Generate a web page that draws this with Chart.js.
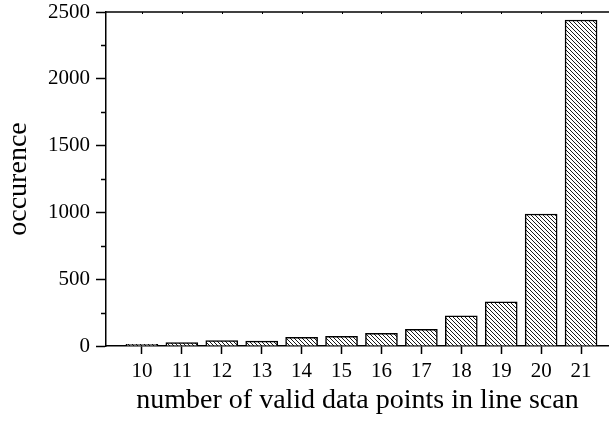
<!DOCTYPE html>
<html>
<head>
<meta charset="utf-8">
<script src="https://cdn.jsdelivr.net/npm/chart.js@4"></script>
<style>
  html, body { margin: 0; padding: 0; background: #fff; }
  canvas { display: block; }
</style>
</head>
<body>
<canvas id="histChart" width="609" height="421"></canvas>
<script>
const points = [10, 11, 12, 13, 14, 15, 16, 17, 18, 19, 20, 21];
const counts = [13, 25, 40, 37, 65, 73, 95, 125, 225, 330, 988, 2440];
const yTicks = [0, 500, 1000, 1500, 2000, 2500];
const yMinor = [250, 750, 1250, 1750, 2250];

const serif = "'Liberation Serif', 'DejaVu Serif', serif";

// diagonal hatch like the "\\\\" fill of the original
function hatch() {
    const s = 4;
    const c = document.createElement('canvas');
    c.width = s; c.height = s;
    const g = c.getContext('2d');
    g.fillStyle = '#fff';
    g.fillRect(0, 0, s, s);
    g.strokeStyle = '#000';
    g.lineWidth = 0.9;
    for (let k = -1; k <= 1; k++) {
        g.beginPath();
        g.moveTo(-1, -1 + k * s);
        g.lineTo(s + 1, s + 1 + k * s);
        g.stroke();
    }
    return g.createPattern(c, 'repeat');
}

const extraTicks = {
    id: 'extraTicks',
    afterDraw(chart) {
        const ctx = chart.ctx;
        const a = chart.chartArea;
        const y = chart.scales.y;
        const x = chart.scales.x;
        ctx.save();
        ctx.strokeStyle = '#000';
        ctx.lineWidth = 1.5;
        // minor ticks on the left axis
        yMinor.forEach(v => {
            const py = Math.round(y.getPixelForValue(v)) + 0.5;
            ctx.beginPath();
            ctx.moveTo(a.left - 5, py);
            ctx.lineTo(a.left, py);
            ctx.stroke();
        });
        // top frame line with small inward ticks
        ctx.beginPath();
        ctx.moveTo(a.left, a.top);
        ctx.lineTo(a.right, a.top);
        ctx.stroke();
        ctx.lineWidth = 1;
        points.forEach(v => {
            const px = Math.round(x.getPixelForValue(v)) + 0.5;
            ctx.beginPath();
            ctx.moveTo(px, a.top);
            ctx.lineTo(px, a.top + 2);
            ctx.stroke();
        });
        ctx.restore();
    }
};

const data = {
    datasets: [{
        data: points.map((p, i) => ({ x: p, y: counts[i] })),
        backgroundColor: hatch(),
        borderColor: '#000',
        borderWidth: 1.5,
        barThickness: 32
    }]
};

const config = {
    type: 'bar',
    data: data,
    plugins: [extraTicks],
    options: {
        responsive: false,
        animation: false,
        layout: { padding: { top: 12, right: 0, left: 0, bottom: 0 } },
        plugins: {
            legend: { display: false },
            tooltip: { enabled: false }
        },
        scales: {
            x: {
                type: 'linear',
                offset: false,
                min: 9.1,
                max: 21.7,
                afterBuildTicks: s => { s.ticks = points.map(v => ({ value: v })); },
                afterFit: s => { s.height = 75; },
                border: { display: true, color: '#000', width: 1.5 },
                grid: { offset: false, drawOnChartArea: false, drawTicks: true, tickLength: 8, color: '#000', tickWidth: 1.5 },
                ticks: {
                    color: '#000',
                    font: { family: serif, size: 21 },
                    padding: 5,
                    maxRotation: 0,
                    autoSkip: false,
                    callback: v => String(v)
                },
                title: {
                    display: true,
                    text: 'number of valid data points in line scan',
                    color: '#000',
                    font: { family: serif, size: 28 },
                    padding: { top: 0, bottom: 4 }
                }
            },
            y: {
                min: 0,
                max: 2500,
                afterBuildTicks: s => { s.ticks = yTicks.map(v => ({ value: v })); },
                afterFit: s => { s.width = 106; s.paddingTop = 0; s.paddingBottom = 0; },
                border: { display: true, color: '#000', width: 1.5 },
                grid: { drawOnChartArea: false, drawTicks: true, tickLength: 10, color: '#000', tickWidth: 1.5 },
                ticks: {
                    color: '#000',
                    font: { family: serif, size: 21 },
                    padding: 6,
                    callback: v => String(v)
                },
                title: {
                    display: true,
                    text: 'occurence',
                    color: '#000',
                    font: { family: serif, size: 28 },
                    padding: { top: 2, bottom: 0 }
                }
            }
        }
    }
};

new Chart(document.getElementById('histChart').getContext('2d'), config);
</script>
</body>
</html>
